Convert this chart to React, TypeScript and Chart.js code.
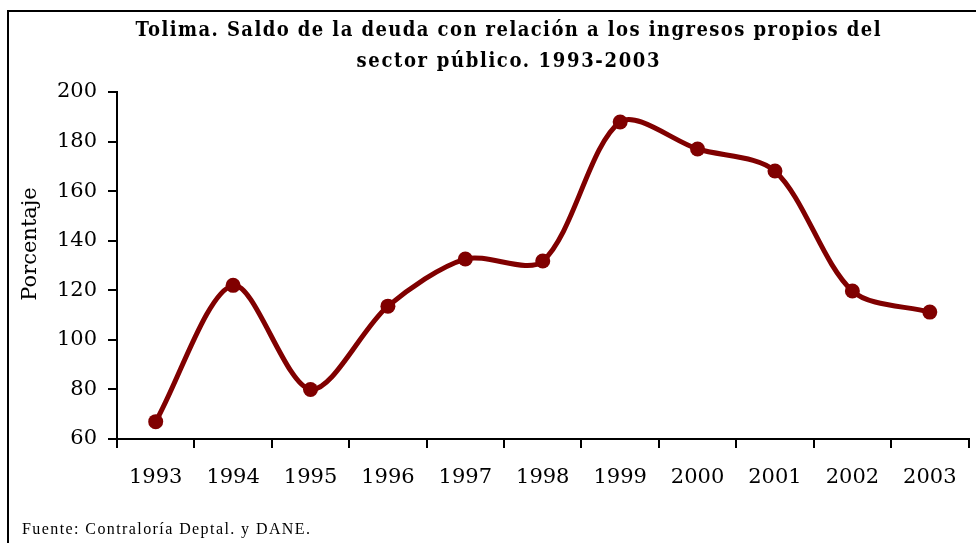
import React, { useEffect, useRef } from "react";
import { Chart, registerables } from "chart.js";

Chart.register(...registerables);

const years = ["1993", "1994", "1995", "1996", "1997", "1998", "1999", "2000", "2001", "2002", "2003"];
const porcentaje = [67, 122, 80, 113.6, 132.6, 131.8, 187.9, 177, 168.1, 119.7, 111.2];
const titleLines = [
  "Tolima. Saldo de la deuda con relación a los ingresos propios del",
  "sector público. 1993-2003",
];
const yAxisTitle = "Porcentaje";
const footerText = "Fuente: Contraloría Deptal. y DANE.";

function drawFitted(
  ctx: CanvasRenderingContext2D,
  text: string,
  x: number,
  y: number,
  width: number,
  align: "center" | "left"
) {
  (ctx as any).letterSpacing = "0px";
  const w = ctx.measureText(text).width;
  const ls = (width - w) / Math.max(1, text.length - 1);
  (ctx as any).letterSpacing = `${ls}px`;
  ctx.textAlign = "left";
  const left = align === "center" ? x - width / 2 : x;
  ctx.fillText(text, left, y);
  (ctx as any).letterSpacing = "0px";
}

const decorPlugin = {
  id: "decor",
  beforeDraw(chart: any) {
    const ctx = chart.ctx as CanvasRenderingContext2D;
    ctx.save();
    ctx.fillStyle = "#ffffff";
    ctx.fillRect(0, 0, chart.width, chart.height);
    ctx.strokeStyle = "#000000";
    ctx.lineWidth = 2;
    ctx.beginPath();
    ctx.moveTo(8, chart.height);
    ctx.lineTo(8, 11);
    ctx.lineTo(chart.width, 11);
    ctx.stroke();
    ctx.restore();
  },
  afterDraw(chart: any) {
    const ctx = chart.ctx as CanvasRenderingContext2D;
    ctx.save();
    ctx.fillStyle = "#000000";
    ctx.textBaseline = "middle";
    (ctx as any).fontStretch = "condensed";
    ctx.font = "bold 20px 'DejaVu Serif'";
    (ctx as any).fontStretch = "condensed";
    drawFitted(ctx, titleLines[0], 508, 31, 745, "center");
    drawFitted(ctx, titleLines[1], 508, 62, 303, "center");
    (ctx as any).fontStretch = "normal";

    ctx.font = "16px 'Liberation Serif'";
    drawFitted(ctx, footerText, 22, 530, 288, "left");

    ctx.translate(31, 244);
    ctx.rotate(-Math.PI / 2);
    ctx.font = "21px 'DejaVu Serif'";
    ctx.textAlign = "center";
    ctx.fillText(yAxisTitle, 0, 0);
    ctx.restore();
  },
};

export default function App() {
  const canvasRef = useRef<HTMLCanvasElement | null>(null);

  useEffect(() => {
    document.body.style.margin = "0";
    const canvas = canvasRef.current;
    if (!canvas) return;
    const chart = new Chart(canvas, {
      type: "line",
      data: {
        labels: years,
        datasets: [
          {
            label: yAxisTitle,
            data: porcentaje,
            borderColor: "#800000",
            backgroundColor: "#800000",
            borderWidth: 5,
            pointRadius: 7.5,
            pointBackgroundColor: "#800000",
            pointBorderColor: "#800000",
            pointBorderWidth: 0,
            tension: 0.3,
            fill: false,
          },
        ],
      },
      options: {
        responsive: false,
        animation: false,
        layout: { padding: { top: 92, right: 4, bottom: 0, left: 0 } },
        plugins: {
          legend: { display: false },
          title: { display: false },
          tooltip: { enabled: false },
        },
        scales: {
          x: {
            type: "category",
            offset: true,
            grid: {
              offset: true,
              drawOnChartArea: false,
              drawTicks: true,
              tickLength: 9,
              color: "#000000",
              lineWidth: 2,
            },
            border: { display: true, color: "#000000", width: 2 },
            ticks: {
              color: "#000000",
              font: { family: "'DejaVu Serif'", size: 21 },
              padding: 17,
              maxRotation: 0,
              autoSkip: false,
            },
            afterFit: (scale: any) => {
              scale.height = 104;
            },
          },
          y: {
            min: 60,
            max: 200,
            grid: {
              drawOnChartArea: false,
              drawTicks: true,
              tickLength: 9,
              color: "#000000",
              lineWidth: 2,
            },
            border: { display: true, color: "#000000", width: 2 },
            ticks: {
              stepSize: 20,
              color: "#000000",
              font: { family: "'DejaVu Serif'", size: 21 },
              padding: 11,
            },
            afterFit: (scale: any) => {
              scale.width = 117;
            },
          },
        },
      },
      plugins: [decorPlugin],
    });
    return () => chart.destroy();
  }, []);

  return <canvas ref={canvasRef} width={976} height={543} style={{ display: "block" }} />;
}
